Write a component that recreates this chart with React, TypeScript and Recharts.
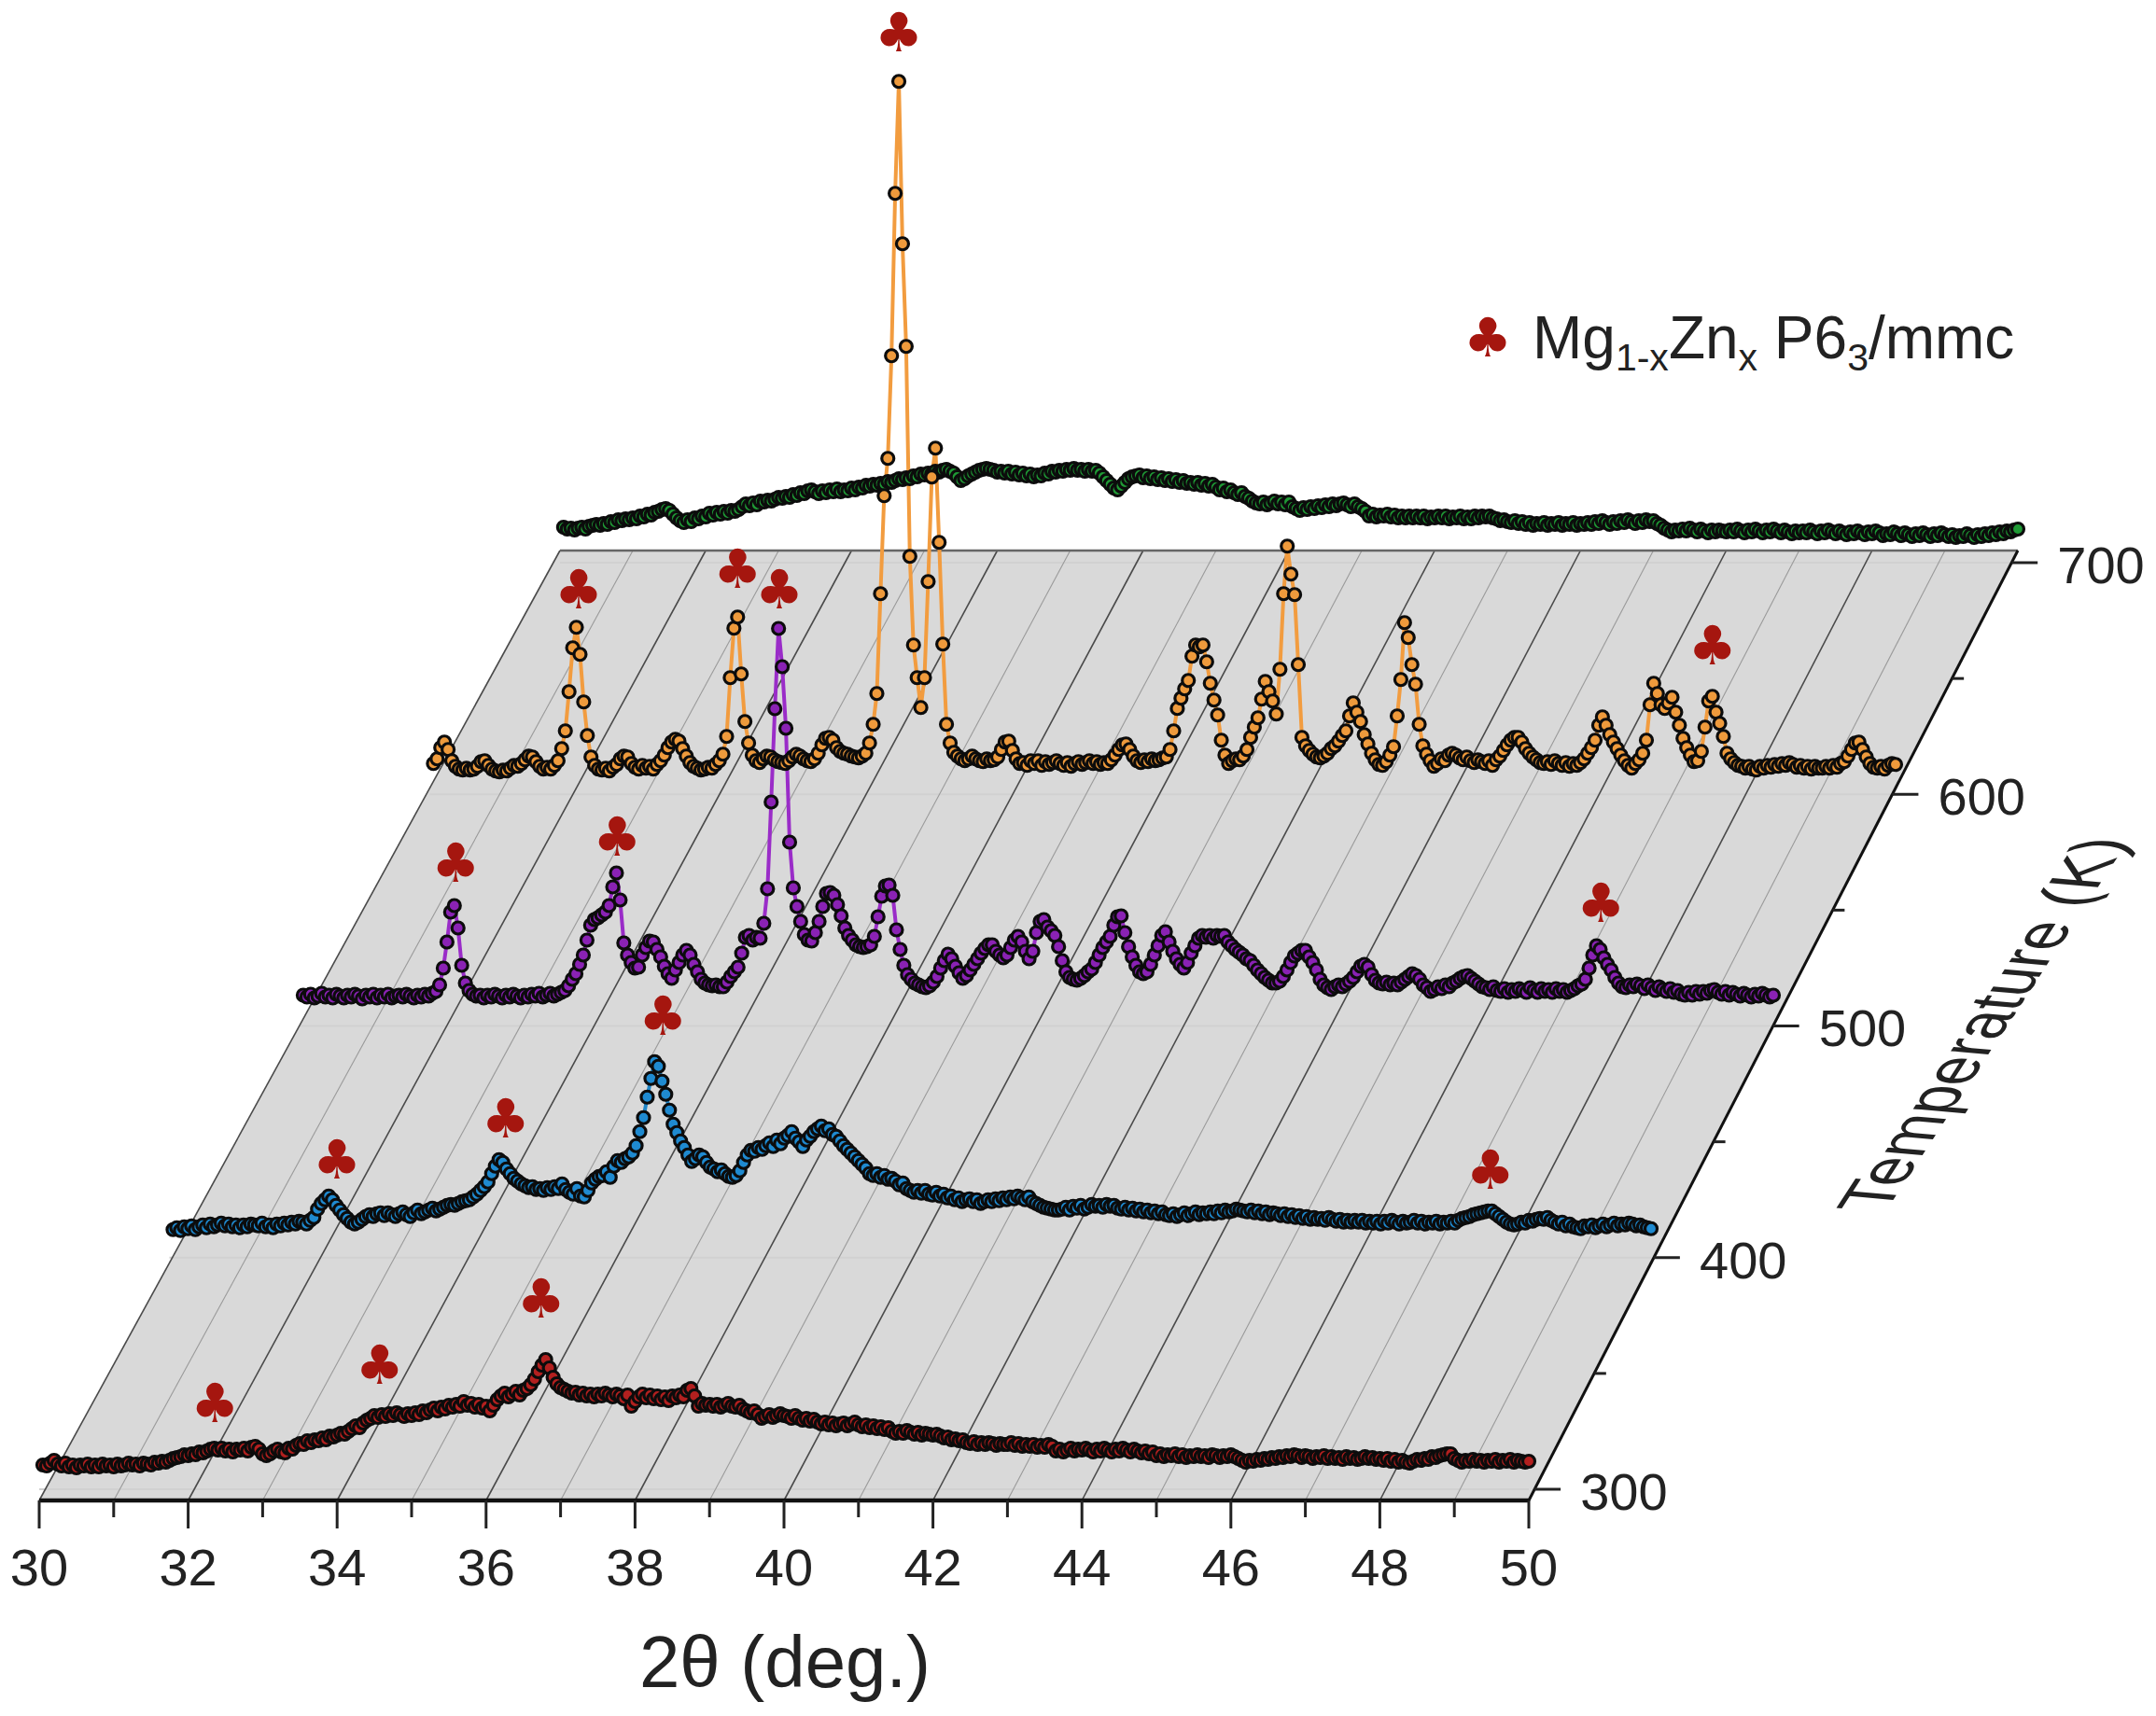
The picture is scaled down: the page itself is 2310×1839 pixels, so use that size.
import React from "react";
import { ComposedChart, Area, Line, XAxis, YAxis } from "recharts";

// Each row is one degree of 2theta, sampled every 0.05 deg (r + 0.05 ... r + 1.00).
// Intensity is in arbitrary units above the temperature level of that scan.
const intensity300 = [
  [26,25,28,31,27,25,28,24,26,23,26,25,27,24,26,24,27,25,26,24],
  [27,25,26,28,26,27,25,28,27,26,29,28,30,29,31,33,34,35,37,36],
  [38,37,40,39,41,43,44,42,44,41,43,40,43,42,44,41,45,46,43,38],
  [36,38,41,43,40,39,44,43,47,49,48,52,50,53,52,55,53,57,56,58],
  [60,59,62,65,68,66,71,74,76,79,77,80,78,81,79,82,80,78,81,79],
  [82,80,84,82,85,87,84,88,86,90,88,91,89,94,90,92,88,91,87,89],
  [84,90,96,100,103,99,102,105,101,106,108,112,118,126,133,139,130,120,113,109],
  [107,105,103,104,101,103,100,102,99,102,100,103,101,99,102,100,97,101,89,94],
  [99,102,98,101,97,100,96,99,95,100,98,101,99,106,108,100,89,92,90,91],
  [89,91,88,90,92,89,88,90,86,84,82,84,80,76,78,80,77,79,81,79],
  [78,76,79,76,74,76,73,75,72,70,72,69,71,68,70,71,68,70,72,69],
  [67,69,66,68,65,67,64,66,62,60,62,60,63,61,59,61,58,60,59,58],
  [59,57,55,56,53,54,52,53,50,49,51,48,50,48,50,49,47,49,48,48],
  [50,47,49,46,48,46,48,45,47,45,48,46,41,43,40,42,44,41,43,42],
  [44,42,40,43,41,44,42,40,43,41,44,42,40,43,41,39,41,38,40,36],
  [38,35,37,36,38,35,37,34,36,35,37,35,36,34,37,36,34,36,35,37],
  [35,33,31,29,31,30,32,31,33,32,34,33,35,34,36,35,37,36,34,36],
  [35,33,35,34,36,33,35,33,34,32,35,33,34,32,33,35,33,34,32,33],
  [31,33,30,32,29,31,29,28,30,32,31,33,32,35,34,36,37,38,38,33],
  [31,29,31,30,32,30,31,29,31,30,32,29,31,30,32,29,31,30,29,30],
];

const intensity400 = [
  [30,32,29,33,31,34,30,33,35,32,36,33,35,37,34,36,33,35,32,35],
  [33,36,35,34,37,33,35,32,36,34,37,35,38,36,39,38,36,40,43,52],
  [58,62,66,62,56,51,46,42,38,36,38,41,44,46,44,47,48,45,48,46],
  [44,47,49,46,44,48,51,47,49,51,53,50,52,54,56,57,56,58,60,61],
  [62,65,68,72,76,81,90,98,105,102,95,90,85,82,79,77,75,76,73,74],
  [72,75,73,76,74,79,73,70,68,74,66,65,72,80,84,87,88,92,86,98],
  [104,102,106,108,112,120,135,150,172,192,210,205,189,175,158,143,134,125,118,110],
  [103,106,110,108,102,97,95,92,94,90,87,86,88,93,102,110,115,114,118,116],
  [120,123,119,126,122,128,131,135,128,124,119,126,130,135,138,141,136,138,132,130],
  [125,120,116,112,108,104,100,96,90,88,90,86,88,84,85,82,78,80,74,72],
  [70,72,69,72,68,67,70,66,68,64,66,62,64,60,62,63,60,62,58,60],
  [62,60,63,61,64,62,65,63,66,64,62,65,60,58,56,54,53,52,51,51],
  [52,54,51,55,53,56,52,54,57,55,56,54,57,55,56,53,52,54,51,53],
  [50,52,49,51,48,50,47,49,46,45,47,44,46,48,45,47,49,46,48,47],
  [49,47,50,48,51,49,50,52,51,50,49,51,48,50,47,49,46,48,47,45],
  [47,44,46,43,45,42,44,41,43,41,42,40,43,41,39,41,38,40,38,40],
  [38,40,37,39,37,39,36,39,37,40,38,36,39,37,38,40,37,39,36,38],
  [37,39,36,38,37,39,37,40,42,43,44,46,47,48,49,50,50,47,44,41],
  [38,36,35,36,38,37,40,39,41,42,41,43,40,38,36,38,34,36,33,32],
  [31,34,33,35,32,34,36,33,35,37,34,36,35,37,36,34,35,33,32,31],
];

const intensity500 = [
  [33,31,34,30,32,35,31,33,30,34,32,30,33,31,34,32,29,33,31,34],
  [30,33,31,34,30,32,33,31,34,32,30,33,31,34,32,35,37,44,62,90],
  [122,129,105,65,46,38,34,32,33,30,33,31,34,32,30,33,31,34,32,30],
  [33,31,34,32,35,31,33,35,32,34,36,38,43,50,56,66,76,92,108,114],
  [116,119,122,129,149,164,135,89,76,68,62,63,76,84,91,90,82,74,64,56],
  [51,60,68,76,81,76,66,58,50,46,44,43,44,42,42,47,53,58,63,78],
  [95,97,92,95,94,110,147,240,340,426,385,319,197,148,128,112,98,92,91,100],
  [112,128,142,143,140,130,118,105,97,92,87,85,84,85,87,96,117,139,150,151],
  [140,103,82,65,55,50,46,44,42,41,43,47,53,62,70,77,72,64,57,51],
  [54,60,66,72,78,83,87,87,80,76,73,76,84,92,96,90,80,72,80,100],
  [112,114,106,102,97,85,70,58,52,50,49,51,54,58,61,68,76,84,90,96],
  [108,117,118,100,85,74,65,58,56,58,66,76,86,97,101,90,80,72,66,62],
  [68,78,86,94,97,95,97,94,97,96,97,90,86,82,79,76,72,70,65,60],
  [56,52,49,46,46,48,53,60,68,75,78,81,81,74,68,60,50,44,41,39],
  [42,44,42,45,48,52,58,64,66,63,55,49,46,45,47,44,46,44,47,50],
  [53,56,54,50,44,41,37,39,42,40,44,42,46,48,51,53,54,51,48,45],
  [42,41,39,42,38,37,40,36,39,37,40,38,36,41,38,36,40,37,39,36],
  [40,37,39,36,38,40,43,45,50,62,76,86,82,73,66,60,52,46,42,41],
  [44,42,45,43,40,44,41,38,42,39,37,40,36,38,34,33,36,33,37,34],
  [37,35,38,39,36,34,37,33,36,34,32,35,33,31,34,32,35,33,31,33],
];

const intensity600 = [
  [33,38,50,56,48,36,30,27,26,28,26,27,30,35,36,31,27,25,24,26],
  [25,28,31,30,33,37,41,40,35,30,27,29,27,31,36,49,68,110,157,179],
  [150,99,63,40,31,27,26,28,25,29,32,38,41,40,33,29,27,31,28,30],
  [27,32,36,42,50,56,59,57,49,41,34,30,28,26,27,29,28,32,36,43],
  [62,125,178,190,129,78,55,42,36,34,38,41,40,37,35,34,33,36,40,43],
  [41,38,36,35,38,44,53,60,61,58,50,46,44,43,41,40,39,41,44,55],
  [75,108,215,320,360,470,644,764,590,480,255,160,125,93,125,228,340,371,270,161],
  [75,55,45,41,38,36,38,41,38,36,35,38,36,37,40,48,56,57,47,38],
  [33,34,31,36,33,36,31,35,32,34,36,33,31,34,30,33,35,32,34,36],
  [33,35,32,34,33,37,42,48,53,54,48,41,36,34,37,35,38,36,37,39],
  [40,48,68,92,103,113,122,148,160,158,160,142,119,101,85,58,42,33,36,38],
  [37,41,48,61,72,82,102,121,110,100,86,134,215,266,236,214,139,61,52,47],
  [43,40,39,41,44,49,52,57,63,68,84,98,88,78,64,54,44,37,32,31],
  [35,42,51,84,123,184,168,139,118,75,52,43,36,30,33,38,36,42,44,42],
  [39,37,40,36,34,37,35,33,36,31,37,41,47,53,58,61,61,56,49,44],
  [40,37,34,33,35,32,36,33,31,34,30,33,31,34,38,44,50,58,74,83],
  [74,64,56,49,42,36,31,28,33,37,44,58,96,119,108,96,92,98,104,88],
  [74,60,50,42,35,36,46,72,100,105,88,76,62,44,38,34,31,30,28,30],
  [27,26,30,28,31,29,32,30,33,31,34,32,29,31,28,30,27,30,28,28],
  [30,28,31,29,33,35,41,48,55,56,48,40,33,29,28,30,27,31,33,32],
];

const intensity700 = [
  [38,36,37,35,37,38,36,39,40,41,40,42,41,44,43,46,45,47,46,48],
  [47,50,49,52,51,54,55,57,58,56,52,48,45,43,46,44,48,47,50,49],
  [53,51,54,52,55,53,56,55,57,60,63,61,64,62,66,65,67,66,68,70],
  [69,71,70,73,72,75,74,77,78,76,74,77,75,78,76,79,76,78,77,80],
  [78,81,80,83,82,84,83,85,84,87,86,88,90,89,91,90,93,92,95,94],
  [96,95,98,97,99,100,98,96,92,88,90,93,95,97,99,100,101,100,99,97],
  [98,96,98,95,97,94,96,93,95,92,94,93,96,95,98,97,99,98,100,99],
  [101,99,100,98,100,98,99,96,92,88,84,80,78,82,86,90,92,93,94,91],
  [93,90,92,89,91,88,90,87,89,86,88,85,86,84,86,83,85,82,84,81],
  [78,80,76,78,75,73,75,71,69,66,64,63,65,62,64,66,63,65,62,65],
  [60,58,56,59,57,60,58,61,59,62,60,63,61,63,64,62,60,63,60,58],
  [55,50,52,49,51,50,52,49,51,48,50,48,50,48,50,48,50,47,49,48],
  [50,48,50,47,49,48,50,47,49,47,50,48,50,49,50,48,47,45,46,44],
  [43,45,42,44,41,43,40,42,41,43,40,42,41,43,40,42,41,43,40,42],
  [41,43,41,44,42,45,43,41,44,42,45,43,46,44,42,45,43,46,44,45],
  [42,40,37,35,33,35,34,36,34,37,35,33,36,34,32,35,33,35,34,33],
  [35,33,36,34,32,35,33,36,34,32,35,33,36,34,32,35,33,31,34,32],
  [34,32,35,33,31,34,32,35,33,31,34,32,30,33,31,34,32,30,33,31],
  [34,32,29,31,30,33,31,29,32,30,28,31,29,32,30,28,31,29,32,30],
  [28,30,27,29,28,31,29,27,30,28,31,29,32,30,33,31,34,33,35,36],
];

// phase markers: scan temperature, 2theta, height of the symbol above the scan level
const markerTemps = [600, 600, 600, 600, 500, 500, 500, 500, 400, 400, 400, 400, 300, 300, 300];
const markerThetas = [36.4, 32.03, 34.2, 47.5, 36.51, 32.12, 34.31, 47.66, 32.26, 34.54, 36.66, 47.83, 32.36, 34.57, 36.74];
const markerHeights = [816, 219, 241, 159, 467, 174, 202, 131, 105, 149, 259, 94, 92, 133, 204];

const scanTemps = [700, 600, 500, 400, 300];
const scanFills = ["#1f9a35", "#ee9a3c", "#8a22b4", "#1f8ad0", "#b3201f"];
const scanLines = ["#1f7a30", "#f29c3f", "#9a2cc8", "#1f86c8", "#a81c1c"];
const scanValues = [intensity700, intensity600, intensity500, intensity400, intensity300];

const thetaTicks = [30, 31, 32, 33, 34, 35, 36, 37, 38, 39, 40, 41, 42, 43, 44, 45, 46, 47, 48, 49, 50];
const tempMajor = [300, 400, 500, 600, 700];
const tempMinor = [350, 450, 550, 650];

const FONT = "'Liberation Sans', Arial, sans-serif";
const CLUB_RED = "#a5160f";
const UNITS_PER_K = 2.4825;
const FLOOR_LOW = -12;
const FLOOR_HIGH = 13;

// oblique projection of (2theta, temperature, intensity) on the page
const project = (theta: number, temp: number, value = 0) => {
  const k = (temp - 300) / 100;
  return {
    x: 30 + 1.748 * k + (theta - 30) * (1 - 0.005326 * k),
    y: temp + value / UNITS_PER_K,
  };
};

const toScan = (rows: number[][], temp: number) =>
  rows.flatMap((row, r) => row.map((v, c) => project(30 + r + (c + 1) * 0.05, temp, v)));

const floorBL = project(30, 300, FLOOR_LOW);
const floorTL = project(30, 700, FLOOR_HIGH);
const floorBR = project(50, 300, FLOOR_LOW);
const floorTR = project(50, 700, FLOOR_HIGH);

const floorData = [
  { x: floorBL.x, range: [floorBL.y, floorBL.y] },
  { x: floorTL.x, range: [floorBL.y, floorTL.y] },
  { x: floorBR.x, range: [floorBL.y, floorTL.y] },
  { x: floorTR.x, range: [floorTL.y, floorTL.y] },
];

// x of the right floor edge at a temperature
const edgeX = (temp: number) =>
  floorBR.x + ((floorTR.x - floorBR.x) * (temp - floorBR.y)) / (floorTR.y - floorBR.y);

const segment = (a: { x: number; y: number }, b: { x: number; y: number }) => [a, b];

const markers = markerTemps.map((t, i) => project(markerThetas[i], t, markerHeights[i]));
const tempLabels = tempMajor.map((t) => ({ x: edgeX(t) + 1.2, y: t - 1, label: String(t) }));

const ClubDot = (props: any) => (
  <text
    key={props.index}
    x={props.cx}
    y={props.cy}
    textAnchor="middle"
    dominantBaseline="central"
    fontFamily="'DejaVu Sans'"
    fontSize={58}
    fill={CLUB_RED}
  >
    ♣
  </text>
);

const TempLabel = (props: any) => (
  <text
    key={props.index}
    x={props.cx}
    y={props.cy}
    textAnchor="middle"
    dominantBaseline="central"
    fontFamily={FONT}
    fontSize={56}
    fill="#222"
  >
    {props.payload.label}
  </text>
);

const ThetaTick = (props: any) => {
  const value = props.payload.value;
  const major = value % 2 === 0;
  return (
    <g>
      <line x1={props.x} x2={props.x} y1={props.y} y2={props.y + (major ? 30 : 18)} stroke="#222" strokeWidth={3} />
      {major && (
        <text
          x={props.x}
          y={props.y + 71}
          textAnchor="middle"
          dominantBaseline="central"
          fontFamily={FONT}
          fontSize={56}
          fill="#222"
        >
          {value}
        </text>
      )}
    </g>
  );
};

const seg = (key: string, data: { x: number; y: number }[], stroke: string, width: number) => (
  <Line
    key={key}
    data={data}
    dataKey="y"
    stroke={stroke}
    strokeWidth={width}
    dot={false}
    activeDot={false}
    legendType="none"
    isAnimationActive={false}
  />
);

const App = () => {
  return (
    <div style={{ position: "absolute", left: 0, top: 0, width: 2310, height: 1839, background: "#fff" }}>
      <ComposedChart width={2310} height={1839} margin={{ top: 0, right: 33.6, bottom: 0, left: 42 }}>
        <XAxis
          dataKey="x"
          type="number"
          domain={[30, 58]}
          ticks={thetaTicks}
          interval={0}
          height={231}
          axisLine={false}
          tickLine={false}
          tickSize={0}
          tickMargin={0}
          tick={<ThetaTick />}
        />
        <YAxis hide dataKey="y" type="number" domain={[295.17, 942.9]} />

        <Area
          data={floorData}
          dataKey="range"
          stroke="none"
          fill="#d9d9d9"
          fillOpacity={1}
          dot={false}
          activeDot={false}
          legendType="none"
          isAnimationActive={false}
        />

        {tempMajor.map((t) => seg(`level-${t}`, segment(project(30, t), project(50, t)), "#d1d1d1", 2))}
        {thetaTicks.map((t) =>
          seg(
            `grid-${t}`,
            segment(project(t, 300, FLOOR_LOW), project(t, 700, FLOOR_HIGH)),
            t % 2 === 0 ? "#4a4a4a" : "#9a9a9a",
            t % 2 === 0 ? 1.6 : 1.1
          )
        )}
        {seg("top-edge", segment(floorTL, floorTR), "#666", 2.5)}
        {seg("right-edge", segment(floorBR, floorTR), "#111", 3)}
        {seg("bottom-axis", segment(floorBL, floorBR), "#111", 4.5)}
        {tempMajor.map((t) => seg(`t-major-${t}`, segment({ x: edgeX(t), y: t }, { x: edgeX(t) + 0.35, y: t }), "#222", 3))}
        {tempMinor.map((t) => seg(`t-minor-${t}`, segment({ x: edgeX(t), y: t }, { x: edgeX(t) + 0.16, y: t }), "#222", 3))}

        {scanTemps.map((t, i) => (
          <Line
            key={`scan-${t}`}
            data={toScan(scanValues[i], t)}
            dataKey="y"
            stroke={scanLines[i]}
            strokeWidth={4}
            dot={{ r: 6.5, fill: scanFills[i], stroke: "#0c0c0c", strokeWidth: 3.2 }}
            activeDot={false}
            legendType="none"
            isAnimationActive={false}
          />
        ))}

        <Line
          data={markers}
          dataKey="y"
          stroke="none"
          dot={<ClubDot />}
          activeDot={false}
          legendType="none"
          isAnimationActive={false}
        />
        <Line
          data={tempLabels}
          dataKey="y"
          stroke="none"
          dot={<TempLabel />}
          activeDot={false}
          legendType="none"
          isAnimationActive={false}
        />

        <text x={841} y={1781} textAnchor="middle" dominantBaseline="central" fontFamily={FONT} fontSize={78} fill="#222">
          2θ (deg.)
        </text>
        <text x={0} y={0} textAnchor="middle" fontFamily={FONT} fontSize={66} fill="#222" transform="matrix(0.55,-0.84,1.15,0.1,2150,1100)">
          Temperature (K)
        </text>
        <text x={1594} y={362} textAnchor="middle" dominantBaseline="central" fontFamily="'DejaVu Sans'" fontSize={58} fill={CLUB_RED}>
          ♣
        </text>
        <text x={1642} y={384} fontFamily={FONT} fontSize={64} fill="#222">
          Mg
          <tspan fontSize={41} dy={13}>1-x</tspan>
          <tspan dy={-13}>Zn</tspan>
          <tspan fontSize={41} dy={13}>x</tspan>
          <tspan dy={-13}> P6</tspan>
          <tspan fontSize={41} dy={13}>3</tspan>
          <tspan dy={-13}>/mmc</tspan>
        </text>
      </ComposedChart>
    </div>
  );
};

export default App;
